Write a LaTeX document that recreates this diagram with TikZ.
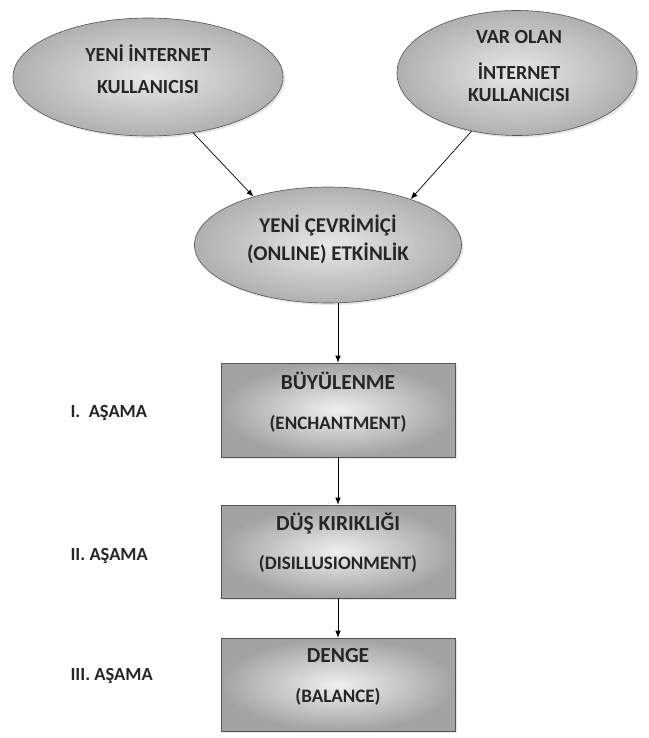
\documentclass[tikz,border=0pt]{standalone}
\usepackage{fontspec}
\setmainfont{Carlito}
\usetikzlibrary{shapes.geometric,arrows.meta,shadows}

\tikzset{
	bubble/.style={ellipse,inner sep=0pt,draw=gray!65!black,line width=.6pt,
		inner color=gray!18,outer color=gray!62,
		drop shadow={opacity=.2,shadow xshift=2pt,shadow yshift=-2pt}},
	stagebox/.style={rectangle,inner sep=0pt,draw=gray!65!black,line width=.6pt,
		inner color=gray!12,outer color=gray!72,
		drop shadow={opacity=.2,shadow xshift=2pt,shadow yshift=-2pt}},
	caption/.style={font=\bfseries\fontsize{20}{24}\selectfont,align=center,text=black!85},
	stagelabel/.style={font=\bfseries\fontsize{18.5}{22}\selectfont,anchor=base west,text=black!85},
	arr/.style={-{Latex[length=7pt,width=5.5pt]},line width=.7pt}
}

\begin{document}
\begin{tikzpicture}[x=1pt,y=-1pt]
	\useasboundingbox (0,0) rectangle (648,738);

	\node[bubble,minimum width=270,minimum height=118] (newuser) at (148,77) {};
	\node[bubble,minimum width=240,minimum height=125] (olduser) at (517,73) {};
	\node[bubble,minimum width=267,minimum height=116] (online) at (328,245) {};
	\node[caption] (newusertext) at (148,69) {YENİ İNTERNET\\[8pt]KULLANICISI};
	\node[caption] (oldusertext) at (519,66) {VAR OLAN\\[12pt]İNTERNET\\[-2pt]KULLANICISI};
	\node[caption,font=\bfseries\fontsize{21}{24}\selectfont] (onlinetext) at (328,239) {YENİ ÇEVRİMİÇİ\\[4pt](ONLINE) ETKİNLİK};

	\node[stagebox,minimum width=234,minimum height=94] (phase1) at (338,410) {};
	\node[stagebox,minimum width=234,minimum height=93] (phase2) at (338,551.5) {};
	\node[stagebox,minimum width=234,minimum height=93] (phase3) at (338,684.5) {};
	\node[caption,font=\bfseries\fontsize{21.5}{24}\selectfont] (phase1text) at (338,402) {BÜYÜLENME\\[16pt]{\fontsize{19}{24}\selectfont(ENCHANTMENT)}};
	\node[caption,font=\bfseries\fontsize{21.5}{24}\selectfont] (phase2text) at (338,543) {DÜŞ KIRIKLIĞI\\[15pt]{\fontsize{19}{24}\selectfont(DISILLUSIONMENT)}};
	\node[caption,font=\bfseries\fontsize{21.5}{24}\selectfont] (phase3text) at (338,677) {DENGE\\[16pt]{\fontsize{19}{24}\selectfont(BALANCE)}};

	\foreach \y/\name/\lbl in {417/one/I.\ \ AŞAMA,
							560/two/II. AŞAMA,
							680/three/III. AŞAMA}
		\node[stagelabel] (stage\name) at (67,\y) {\lbl};

	\draw[arr] (newuser.-51) -- (online.147);
	\draw[arr] (olduser.-128) -- (online.29);
	\draw[arr] (online.south -| phase1.north) -- (phase1.north);
	\draw[arr] (phase1) -- (phase2);
	\draw[arr] (phase2) -- (phase3);
\end{tikzpicture}
\end{document}
